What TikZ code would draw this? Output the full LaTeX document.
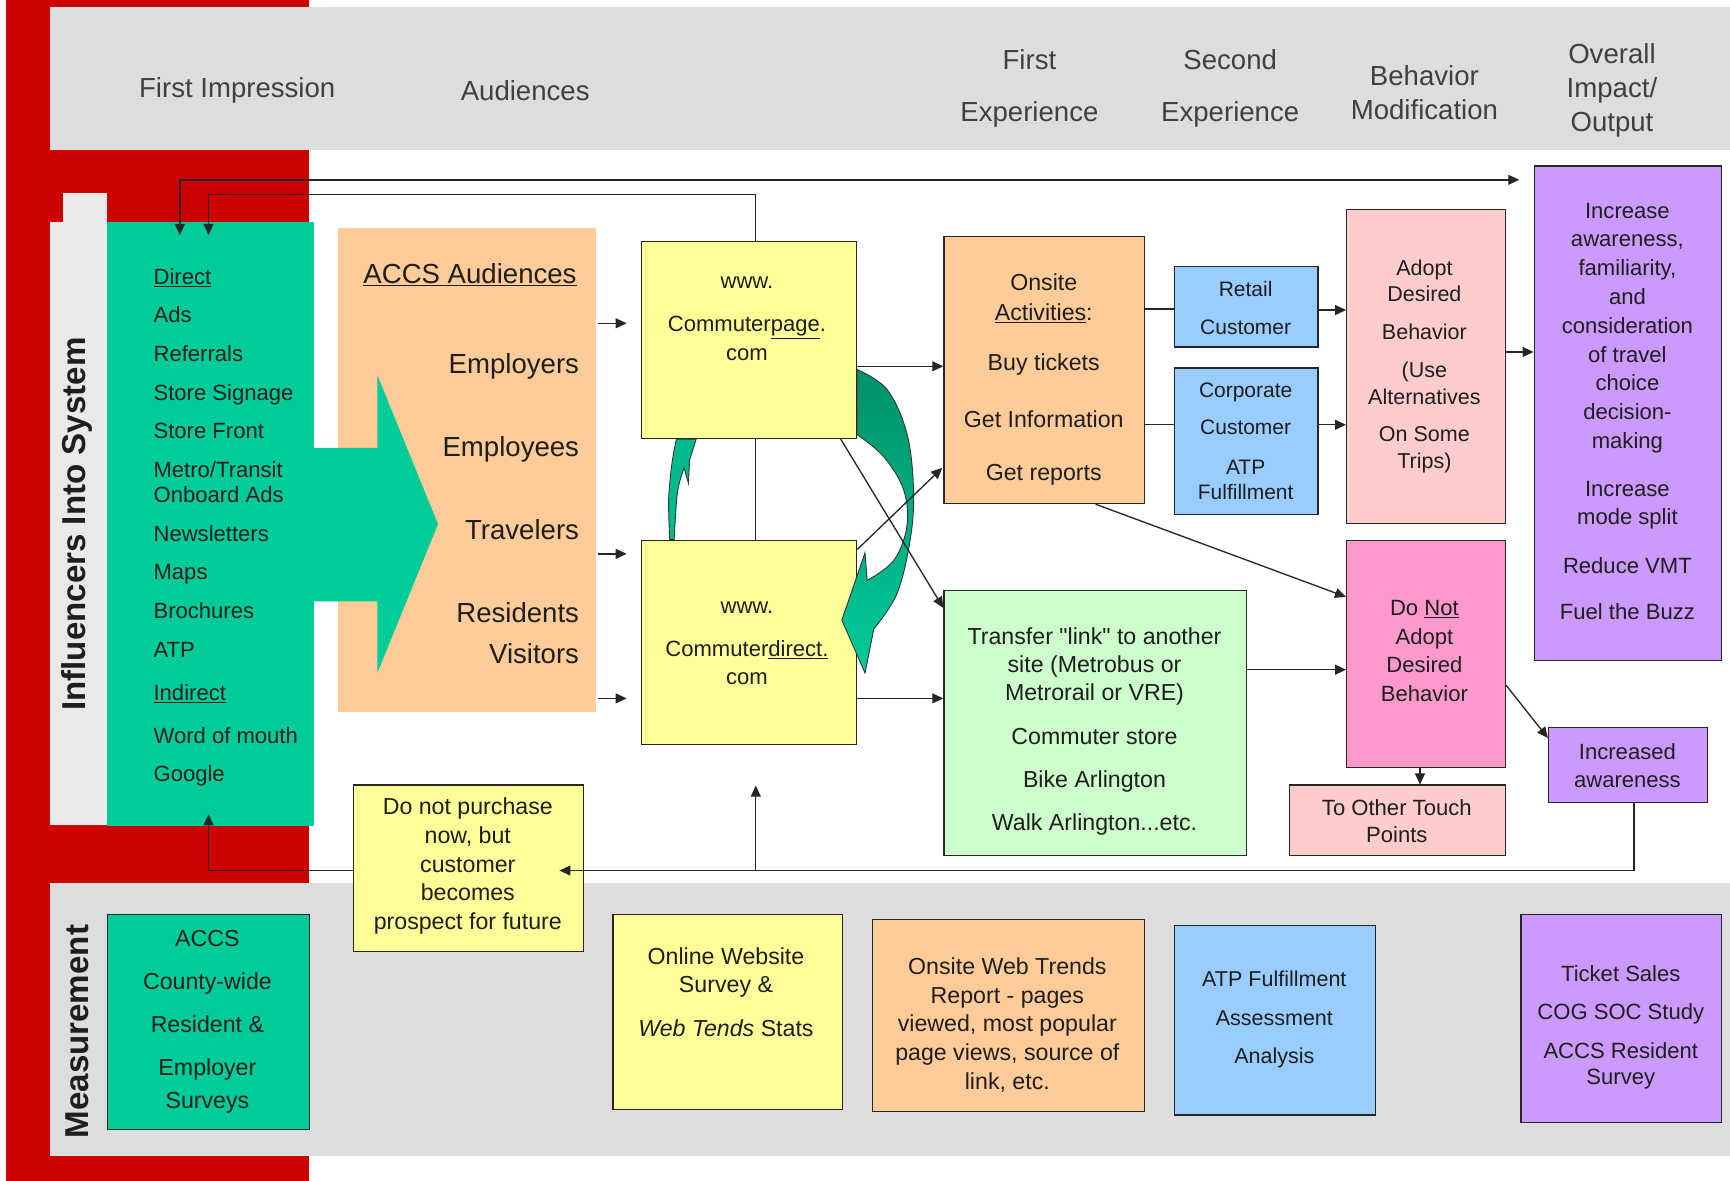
\documentclass[tikz,border=0pt]{standalone}
\usepackage{fontspec}
\setmainfont{Liberation Sans}[Ligatures=TeXOff]
\usetikzlibrary{arrows.meta}
\definecolor{redb}{RGB}{204,0,0}
\definecolor{bandgray}{RGB}{221,221,221}
\definecolor{stripgray}{RGB}{233,233,233}
\definecolor{grn}{RGB}{0,204,153}
\definecolor{dgrn}{RGB}{0,145,105}
\definecolor{peach}{RGB}{255,204,153}
\definecolor{yel}{RGB}{255,255,153}
\definecolor{blu}{RGB}{153,204,255}
\definecolor{lpink}{RGB}{255,204,204}
\definecolor{pnk}{RGB}{255,153,204}
\definecolor{purp}{RGB}{204,153,255}
\definecolor{lgrn}{RGB}{204,255,204}
\definecolor{txtc}{RGB}{30,30,30}
\newcommand{\fsz}[2]{\fontsize{#1pt}{#2pt}\selectfont}
\begin{document}
\begin{tikzpicture}[x=1pt,y=-1pt,
  box/.style={draw=black!85, line width=1.1pt, inner sep=0pt, anchor=north west},
  plain/.style={draw=none, inner sep=0pt, anchor=north west},
  txt/.style={inner sep=0pt, align=center, text=txtc},
  hdr/.style={inner sep=0pt, align=center, text=black!75, font=\fsz{25}{30}},
  conn/.style={line width=1.2pt, draw=black!85},
  arr/.style={conn, -{Triangle[length=10pt,width=9pt]}},
  darr/.style={conn, {Triangle[length=10pt,width=9pt]}-{Triangle[length=10pt,width=9pt]}}]
\useasboundingbox (0,0) rectangle (1568,1070);
\fill[white] (0,0) rectangle (1568,1070);
% background bands
\fill[redb] (5,0) rectangle (280,1070);
\fill[bandgray] (45,6) rectangle (1568,136);
\fill[bandgray] (45,800) rectangle (1568,1048);
\fill[stripgray] (45,201) rectangle (97,748);
\fill[stripgray] (57,175) rectangle (97,201);
% header texts
\node[hdr] (hFI) at (215,82) {First Impression};
\node[hdr] (hAud) at (476,82) {Audiences};
\node[hdr, font=\fsz{25}{47}] (hFE) at (933,80) {First\\Experience};
\node[hdr, font=\fsz{25}{47}] (hSE) at (1115,80) {Second\\Experience};
\node[hdr, font=\fsz{25}{30}] (hBM) at (1291,84) {Behavior\\Modification};
\node[hdr, font=\fsz{25}{31}] (hOI) at (1461,82) {Overall\\Impact/\\Output};
% side labels
\node[inner sep=0pt, rotate=90, font=\bfseries\fsz{30}{30}, text=txtc] (infLbl) at (70,475) {Influencers Into System};
\node[inner sep=0pt, rotate=90, font=\bfseries\fsz{30}{30}, text=txtc] (measLbl) at (70,935) {Measurement};
% influencer and audience panels
\node[plain, fill=grn, minimum width=187, minimum height=547] (infl) at (97,201) {};
\node[plain, fill=peach, minimum width=234, minimum height=439] (aud) at (306,206) {};
\fill[grn] (280,406) -- (342,406) -- (342,340) -- (397,475) -- (342,610) -- (342,545) -- (280,545) -- cycle;
\node[txt, align=left, anchor=west, font=\fsz{20}{35}] (inflT) at (139,478) {\underline{Direct}\\Ads\\Referrals\\Store Signage\\Store Front\\Metro/Transit\\[-12pt]Onboard Ads\\Newsletters\\Maps\\Brochures\\ATP\\[4pt]\underline{Indirect}\\[4pt]Word of mouth\\Google};
\node[txt, font=\fsz{25}{30}] (audT) at (426,249) {\underline{ACCS Audiences}};
\node[txt, align=right, anchor=east, font=\fsz{25}{75}] (audL) at (525,461) {Employers\\Employees\\Travelers\\Residents\\[-38pt]Visitors};
% boxes
\node[box, fill=yel, minimum width=195, minimum height=179] (cp) at (581,218) {};
\node[box, fill=yel, minimum width=195, minimum height=185] (cd) at (581,489) {};
\node[box, fill=peach, minimum width=182, minimum height=242] (onsite) at (855,214) {};
\node[box, fill=blu, minimum width=130, minimum height=73] (retail) at (1064,241) {};
\node[box, fill=blu, minimum width=130, minimum height=133] (corp) at (1064,333) {};
\node[box, fill=lpink, minimum width=144, minimum height=285] (adopt) at (1220,189) {};
\node[box, fill=purp, minimum width=170, minimum height=448] (overall) at (1390,150) {};
\node[box, fill=lgrn, minimum width=274, minimum height=240] (transfer) at (855,535) {};
\node[box, fill=pnk, minimum width=144, minimum height=206] (donot) at (1220,489) {};
\node[box, fill=lpink, minimum width=196, minimum height=64] (toother) at (1168,711) {};
\node[box, fill=purp, minimum width=144, minimum height=68] (incaw) at (1403,659) {};
\node[box, fill=yel, minimum width=208, minimum height=151] (dnp) at (320,711) {};
\node[box, fill=grn, minimum width=183, minimum height=195] (m1) at (97,828) {};
\node[box, fill=yel, minimum width=208, minimum height=177] (m2) at (555,828) {};
\node[box, fill=peach, minimum width=247, minimum height=174] (m3) at (790,833) {};
\node[box, fill=blu, minimum width=182, minimum height=172] (m4) at (1064,838) {};
\node[box, fill=purp, minimum width=182, minimum height=189] (m5) at (1378,828) {};
% box texts
\node[txt, font=\fsz{20}{26}] (cpT) at (677,289) {www.\\[13pt]Commuter\underline{page}.\\com};
\node[txt, font=\fsz{20}{26}] (cdT) at (677,583) {www.\\[13pt]Commuter\underline{direct.}\\com};
\node[txt, font=\fsz{21}{27}] (onsiteT) at (946,344) {Onsite\\\underline{Activities}:\\[18pt]Buy tickets\\[25pt]Get Information\\[21pt]Get reports};
\node[txt, font=\fsz{19}{34}] (retailT) at (1129,279) {Retail\\Customer};
\node[txt, font=\fsz{19}{34}] (corpT) at (1129,400) {Corporate\\Customer\\[2pt]ATP\\[-11pt]Fulfillment};
\node[txt, font=\fsz{19.5}{24}] (adoptT) at (1291,332) {Adopt\\Desired\\[10pt]Behavior\\[11pt](Use\\Alternatives\\[10pt]On Some\\Trips)};
\node[txt, font=\fsz{20}{26.1}] (overallT) at (1475,373) {Increase\\awareness,\\familiarity,\\and\\consideration\\of travel\\choice\\decision-\\making\\[17pt]Increase\\mode split\\[18pt]Reduce VMT\\[16pt]Fuel the Buzz};
\node[txt, font=\fsz{21}{25.5}] (transferT) at (992,663) {Transfer "link" to another\\site (Metrobus or\\Metrorail or VRE)\\[14pt]Commuter store\\[13.5pt]Bike Arlington\\[13.5pt]Walk Arlington...etc.};
\node[txt, font=\fsz{20}{26}] (donotT) at (1291,590) {Do \underline{Not}\\Adopt\\Desired\\Behavior};
\node[txt, font=\fsz{20}{24}] (tootherT) at (1266,744) {To Other Touch\\Points};
\node[txt, font=\fsz{20}{26}] (incawT) at (1475,694) {Increased\\awareness};
\node[txt, font=\fsz{21}{26}] (dnpT) at (424,785) {Do not purchase\\now, but\\customer\\becomes\\prospect for future};
\node[txt, font=\fsz{21}{39}] (m1T) at (188,926) {ACCS\\County-wide\\Resident \&\\Employer\\[-9pt]Surveys};
\node[txt, font=\fsz{21}{26}] (m2T) at (658,899) {Online Website\\Survey \&\\[13pt]\textit{Web Tends} Stats};
\node[txt, font=\fsz{21}{26}] (m3T) at (913,929) {Onsite Web Trends\\Report - pages\\viewed, most popular\\page views, source of\\link, etc.};
\node[txt, font=\fsz{19.5}{35}] (m4T) at (1155,924) {ATP Fulfillment\\Assessment\\Analysis};
\node[txt, font=\fsz{20}{35}] (m5T) at (1469,931) {Ticket Sales\\COG SOC Study\\ACCS Resident\\[-11pt]Survey};
% curved green arrows
\filldraw[fill=grn!92!black, draw=black!80, line width=0.8pt]
  (607,489) -- plot[smooth] coordinates {(607,489) (606,453) (609,420) (613,398)}
  -- (631,398) -- (625,417) -- (624,438) -- (620,424)
  -- plot[smooth] coordinates {(620,424) (614,446) (611,489)} -- cycle;
\shadedraw[top color=dgrn, bottom color=grn, draw=black!80, line width=0.8pt]
  (777,335) -- plot[smooth, tension=0.6] coordinates {(777,335) (804,353) (822,393) (828,444) (825,489) (813,538) (792,570)}
  -- (784,610) -- (763,562) -- (784,501) -- (786,526)
  -- plot[smooth, tension=0.6] coordinates {(786,526) (810,508) (822,477) (819,444) (801,414) (777,394)} -- cycle;
% connector coordinates
\coordinate (inflTopA) at (163,213);
\coordinate (overallW) at (1377,163);
\coordinate (cpTop) at (685,218);
\coordinate (topK) at (189,176);
\coordinate (inflTopB) at (189,213);
\coordinate (cpBot) at (685,397);
\coordinate (cdTop) at (685,489);
\coordinate (iaBot) at (1481,727);
\coordinate (dnpTip) at (507,789);
\coordinate (upS) at (685,789);
\coordinate (upT) at (685,712);
\coordinate (dnpW) at (320,789);
\coordinate (inflBot) at (189,738);
\coordinate (aud1) at (542,293);
\coordinate (cp1) at (568,293);
\coordinate (aud2) at (542,502);
\coordinate (cd1) at (568,502);
\coordinate (aud3) at (542,633);
\coordinate (cd2) at (568,633);
\coordinate (cpE) at (776,332);
\coordinate (onsW) at (855,332);
\coordinate (cdE) at (776,633);
\coordinate (trW) at (855,633);
\coordinate (cpSE) at (762,398);
\coordinate (trNW) at (855,551);
\coordinate (cdNE) at (777,498);
\coordinate (onsSW) at (854,424);
\coordinate (onsE1) at (1037,280);
\coordinate (retW) at (1064,280);
\coordinate (onsE2) at (1037,385);
\coordinate (corW) at (1064,385);
\coordinate (retE) at (1194,281);
\coordinate (adW1) at (1220,281);
\coordinate (corE) at (1194,385);
\coordinate (adW2) at (1220,385);
\coordinate (adE) at (1364,319);
\coordinate (ovW) at (1390,319);
\coordinate (onsS) at (993,457);
\coordinate (dnNW) at (1220,541);
\coordinate (trE) at (1129,607);
\coordinate (dnW) at (1220,607);
\coordinate (dnS) at (1287,695);
\coordinate (toN) at (1287,711);
\coordinate (dnE) at (1365,621);
\coordinate (iaNW) at (1403,669);
% connectors
\draw[darr] (inflTopA) |- (overallW);
\draw[arr] (cpTop) |- (topK) -- (inflTopB);
\draw[conn] (cpBot) -- (cdTop);
\draw[arr] (iaBot) |- (dnpTip);
\draw[arr] (upS) -- (upT);
\draw[arr] (dnpW) -| (inflBot);
\draw[arr] (aud1) -- (cp1);
\draw[arr] (aud2) -- (cd1);
\draw[arr] (aud3) -- (cd2);
\draw[arr] (cpE) -- (onsW);
\draw[arr] (cdE) -- (trW);
\draw[arr] (cpSE) -- (trNW);
\draw[arr] (cdNE) -- (onsSW);
\draw[conn] (onsE1) -- (retW);
\draw[conn] (onsE2) -- (corW);
\draw[arr] (retE) -- (adW1);
\draw[arr] (corE) -- (adW2);
\draw[arr] (adE) -- (ovW);
\draw[arr] (onsS) -- (dnNW);
\draw[arr] (trE) -- (dnW);
\draw[arr] (dnS) -- (toN);
\draw[arr] (dnE) -- (iaNW);
\end{tikzpicture}
\end{document}
